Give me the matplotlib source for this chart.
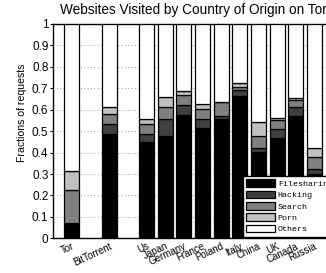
import matplotlib
matplotlib.use("Agg")
import matplotlib.pyplot as plt
import numpy as np

categories = ["Tor", "BitTorrent", "Us", "Japan", "Germany", "France", "Poland",
              "Italy", "China", "UK", "Canada", "Russia"]
filesharing = [0.065, 0.485, 0.450, 0.478, 0.576, 0.514, 0.557, 0.663, 0.401, 0.467, 0.571, 0.300]
hacking     = [0.007, 0.048, 0.035, 0.080, 0.045, 0.043, 0.015, 0.030, 0.019, 0.044, 0.040, 0.024]
search      = [0.152, 0.047, 0.048, 0.055, 0.050, 0.048, 0.063, 0.015, 0.057, 0.039, 0.034, 0.057]
porn        = [0.090, 0.031, 0.024, 0.047, 0.017, 0.022, 0.002, 0.015, 0.064, 0.010, 0.008, 0.039]
series_names = ["Filesharing", "Hacking", "Search", "Porn", "Others"]
yticks = [0, 0.1, 0.2, 0.3, 0.4, 0.5, 0.6, 0.7, 0.8, 0.9, 1]
ytick_labels = ["0", "0.1", "0.2", "0.3", "0.4", "0.5", "0.6", "0.7", "0.8", "0.9", "1"]

# Tor and BitTorrent separated by gaps, countries adjacent
positions = [1, 3] + list(range(5, 5 + len(categories) - 2))

others = [1 - (a + b + c + d) for a, b, c, d in zip(filesharing, hacking, search, porn)]
data = [filesharing, hacking, search, porn, others]
colors = ["#000000", "#404040", "#808080", "#c0c0c0", "#ffffff"]

plt.rcParams['font.family'] = ['Liberation Sans', 'DejaVu Sans']
fig = plt.figure(figsize=(3.26, 2.73), dpi=100)
ax = fig.add_axes([53.3 / 326, (273 - 238.3) / 273, 279.7 / 326, 214.3 / 273])

bottom = np.zeros(len(categories))
for name, vals, col in zip(series_names, data, colors):
    ax.bar(positions, vals, width=0.8, bottom=bottom, color=col, edgecolor="black",
           linewidth=0.9, label=name, zorder=3)
    bottom = bottom + np.array(vals)

ax.set_xlim(0, 15)
ax.set_ylim(0, 1)
ax.set_yticks(yticks)
ax.set_yticklabels(ytick_labels, fontsize=8.5)
ax.yaxis.grid(True, linestyle=(0, (1, 2.5)), color="0.6", linewidth=0.7, zorder=0)
ax.set_axisbelow(True)
ax.tick_params(axis="y", direction="out", length=2.5, width=0.8, pad=1)
ax.tick_params(axis="x", length=0, pad=2)
ax.set_xticks(positions)
ax.set_xticklabels(categories, fontsize=7.0, rotation=25, ha="right", va="top",
                   rotation_mode="anchor")
for sp in ax.spines.values():
    sp.set_linewidth(1.0)
    sp.set_color("black")

ax.set_ylabel("Fractions of requests", fontsize=7.6)
ax.yaxis.set_label_coords((26.7 - 53.3) / 279.7, (238.3 - 113.3) / 214.3)
ax.set_title("Websites Visited by Country of Origin on Tor", fontsize=9.8, pad=7)

leg = ax.legend(loc="lower left", bbox_to_anchor=((242.7 - 53.3) / 279.7, (238.3 - 236.7) / 214.3),
                borderaxespad=0, prop={"family": "Liberation Mono", "size": 6.0},
                handlelength=3.5, handleheight=1.0, handletextpad=0.32,
                labelspacing=0.33, borderpad=0.4, fancybox=False, framealpha=1,
                edgecolor="black")
leg.get_frame().set_linewidth(1.0)
leg.set_zorder(5)

fig.savefig("out.png", dpi=100)
